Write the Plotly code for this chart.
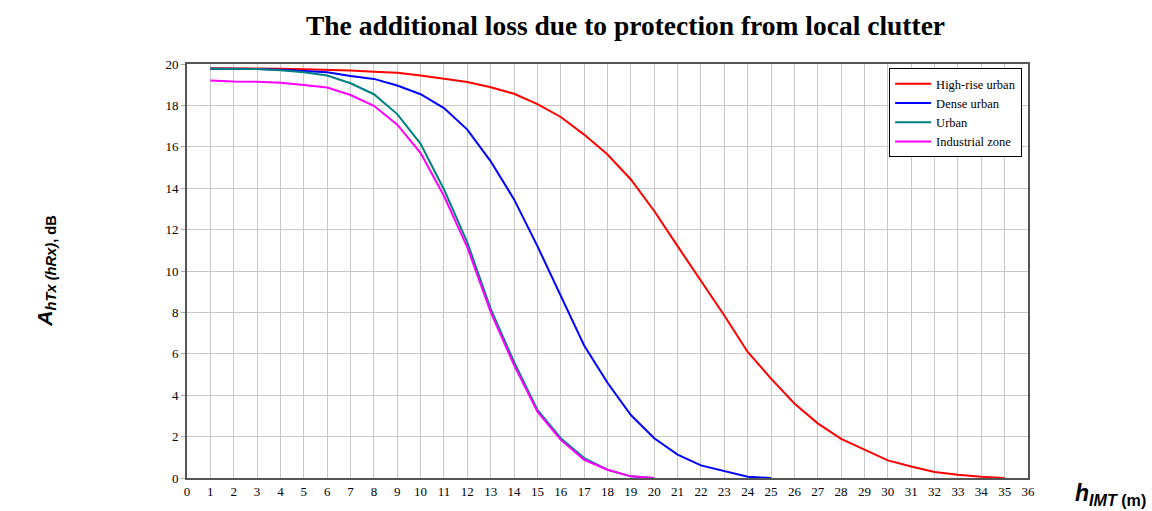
import plotly.graph_objects as go

# Data
h_highrise = list(range(1, 36))
a_highrise = [19.79, 19.79, 19.78, 19.77, 19.75, 19.73, 19.69, 19.63, 19.58, 19.44,
              19.28, 19.13, 18.88, 18.56, 18.06, 17.44, 16.59, 15.63, 14.42, 12.9,
              11.2, 9.53, 7.85, 6.09, 4.8, 3.6, 2.64, 1.89, 1.36, 0.85,
              0.56, 0.29, 0.16, 0.06, 0.0]

h_dense = list(range(1, 26))
a_dense = [19.77, 19.77, 19.76, 19.72, 19.66, 19.6, 19.42, 19.28, 18.96, 18.54,
           17.87, 16.83, 15.3, 13.46, 11.2, 8.8, 6.4, 4.6, 3.04, 1.92,
           1.13, 0.61, 0.32, 0.06, 0.0]

h_urban = list(range(1, 21))
a_urban = [19.77, 19.77, 19.76, 19.7, 19.6, 19.44, 19.07, 18.54, 17.58, 16.14,
           13.94, 11.38, 8.17, 5.61, 3.29, 1.92, 0.96, 0.4, 0.08, 0.0]

h_industrial = list(range(1, 21))
a_industrial = [19.2, 19.15, 19.14, 19.09, 18.99, 18.86, 18.5, 17.98, 17.07, 15.7,
                13.62, 11.14, 8.01, 5.45, 3.2, 1.84, 0.88, 0.4, 0.08, 0.0]

series_names = ["High-rise urban", "Dense urban", "Urban", "Industrial zone"]
series_colors = ["#ff0000", "#0000ff", "#008080", "#ff00ff"]

x_ticks = list(range(0, 37))
y_ticks = list(range(0, 21, 2))

fig = go.Figure()
for name, color, xs, ys in zip(series_names, series_colors,
                               [h_highrise, h_dense, h_urban, h_industrial],
                               [a_highrise, a_dense, a_urban, a_industrial]):
    fig.add_trace(go.Scatter(x=xs, y=ys, mode="lines", name=name,
                             line=dict(color=color, width=2)))

serif = "Liberation Serif, Times New Roman, serif"
sans = "Liberation Sans, Arial, sans-serif"

fig.update_layout(
    width=1152, height=511,
    margin=dict(l=187, r=124, t=64, b=31),
    paper_bgcolor="white", plot_bgcolor="white",
    title=dict(text="<b>The additional loss due to protection from local clutter</b>",
               x=0.543, xanchor="center", y=0.95, yanchor="middle",
               font=dict(family=serif, size=27.5, color="black")),
    legend=dict(x=0.993, xanchor="right", y=0.99, yanchor="top",
                bgcolor="white", bordercolor="black", borderwidth=1,
                font=dict(family=serif, size=12.5, color="black"),
                tracegroupgap=0, itemwidth=36),
    showlegend=True,
    xaxis=dict(range=[0, 36], tickvals=x_ticks, ticktext=[str(v) for v in x_ticks],
               showgrid=True, gridcolor="#c8c8c8", gridwidth=1,
               showline=True, linecolor="#555555", linewidth=2, mirror=True,
               ticks="", zeroline=False,
               tickfont=dict(family=serif, size=13, color="black")),
    yaxis=dict(range=[0, 20], tickvals=y_ticks, ticktext=[str(v) for v in y_ticks],
               showgrid=True, gridcolor="#c8c8c8", gridwidth=1,
               showline=True, linecolor="#555555", linewidth=2, mirror=True,
               ticks="outside", ticklen=4, tickcolor="#aaaaaa", zeroline=False,
               tickfont=dict(family=serif, size=13, color="black")),
)

fig.add_annotation(xref="paper", yref="paper", x=-0.168, y=0.5,
                   xanchor="center", yanchor="middle", textangle=-90,
                   text="<b><i>A</i><sub><i>hTx (hRx)</i>, dB</sub></b>",
                   showarrow=False, font=dict(family=sans, size=21, color="black"))

fig.add_annotation(xref="paper", yref="paper", x=1.053, y=-0.04,
                   xanchor="left", yanchor="middle",
                   text="<b><i>h</i><sub><i>IMT</i> (m)</sub></b>",
                   showarrow=False, font=dict(family=sans, size=23, color="black"))

fig.write_html("out.html")
